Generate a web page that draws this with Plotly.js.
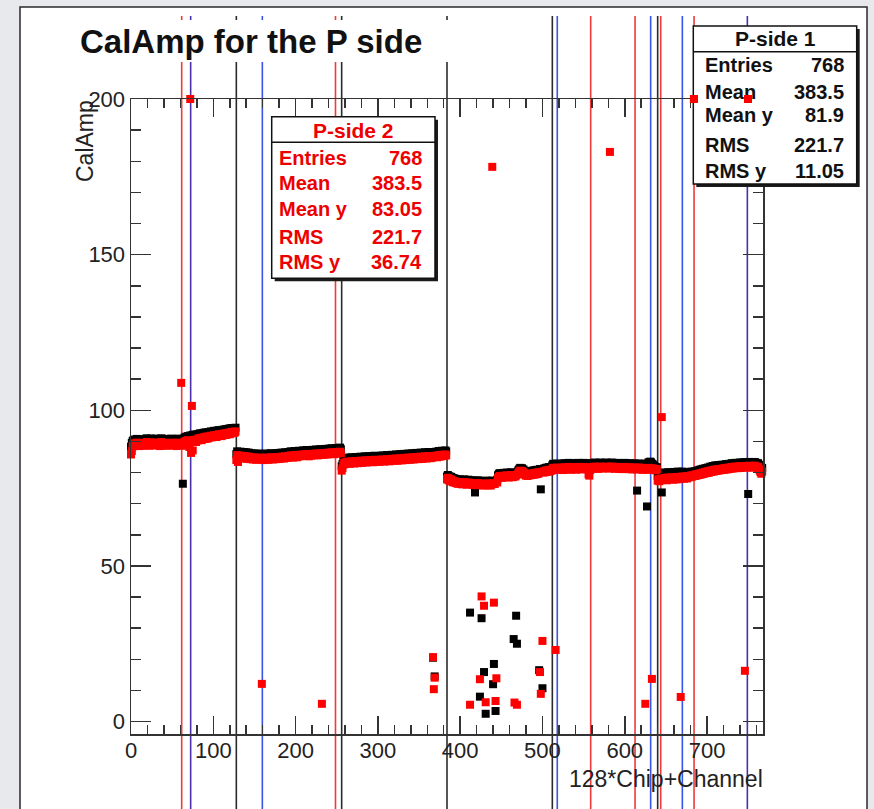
<!DOCTYPE html>
<html>
<head>
<meta charset="utf-8">
<script src="https://cdn.plot.ly/plotly-3.0.1.min.js"></script>
<style>html,body{margin:0;padding:0;background:#e8e9ec;}#chart{width:874px;height:809px;}</style>
</head>
<body>
<div id="chart"></div>
<script>
// ---- Data: CalAmp per channel (128*Chip+Channel) ----
// P-side 1 (black), chips 0..5
const black0 = [88.3,89.5,90.1,90.4,90.0,90.6,90.2,90.8,90.1,90.5,89.9,90.6,90.3,90.0,90.7,90.2,
90.5,90.1,90.7,91.0,90.2,90.4,90.0,90.6,90.9,90.3,90.1,90.8,90.5,90.0,90.9,90.4,
90.2,90.7,90.3,89.9,90.6,91.0,90.4,90.0,90.5,90.8,90.2,90.6,89.9,90.3,90.7,90.1,
90.4,90.9,90.2,90.5,90.0,90.7,90.3,89.9,90.6,90.2,90.9,90.4,90.1,90.5,90.7,76.4,
90.8,91.2,90.9,91.5,91.0,91.7,91.3,91.6,91.9,91.2,91.8,92.1,91.7,92.2,91.9,91.6,
92.2,91.9,92.4,92.1,92.6,92.3,92.0,92.7,92.4,92.8,92.3,92.9,92.6,92.4,93.0,92.7,
92.8,93.2,92.7,93.1,92.9,93.4,93.0,93.3,92.8,93.5,93.2,93.6,93.3,93.5,93.1,93.7,
93.3,93.8,93.5,93.9,93.4,94.0,93.7,94.1,93.6,94.2,93.9,94.3,94.0,94.2,94.1,94.4];
const black1 = [85.9,86.8,85.5,86.4,86.1,86.7,85.9,86.3,86.0,86.6,85.8,86.2,86.5,85.7,86.1,86.4,
85.9,85.6,86.2,85.8,85.5,86.1,85.7,86.0,85.4,85.9,85.6,86.1,85.8,85.5,86.0,85.8,
85.7,85.3,85.9,85.6,86.1,85.5,85.8,85.4,86.0,85.7,86.2,85.6,85.9,85.5,86.1,85.8,
86.0,85.6,86.2,85.9,86.3,85.7,86.1,86.4,85.9,86.2,85.8,86.5,86.1,86.3,86.0,86.6,
86.2,86.5,86.8,86.3,86.7,86.1,86.6,86.9,86.4,86.8,86.2,86.7,87.0,86.5,86.9,86.6,
86.8,87.1,86.6,87.0,86.7,87.2,86.8,87.1,86.5,87.0,87.2,86.7,87.1,87.3,86.9,87.2,
87.0,87.4,87.1,86.8,87.3,87.0,87.5,87.1,86.9,87.3,87.0,87.5,87.2,87.6,87.1,87.4,
87.3,87.7,87.2,87.5,87.8,87.4,87.6,87.2,87.7,87.5,87.9,87.4,87.7,87.6,88.0,87.5];
const black2 = [82.0,82.7,83.8,84.4,84.0,84.6,84.2,84.8,84.3,84.7,84.1,84.5,84.9,84.4,84.7,84.2,
84.6,85.0,84.5,84.8,84.3,84.9,84.6,85.1,84.7,84.4,85.0,84.7,85.2,84.8,84.5,85.1,
84.8,85.2,84.7,85.0,85.3,84.9,84.6,85.1,85.4,85.0,84.7,85.2,84.9,85.3,84.8,85.1,
85.4,85.0,85.5,85.1,84.8,85.3,85.0,85.6,85.2,85.4,84.9,85.5,85.2,85.7,85.3,85.1,
85.6,85.2,85.8,85.4,85.1,85.7,85.3,85.9,85.5,85.2,85.8,85.4,86.0,85.6,85.3,85.9,
85.5,86.1,85.7,85.4,86.0,85.6,86.2,85.8,85.5,86.1,85.7,86.3,85.9,85.6,86.2,85.8,
86.4,86.0,85.7,86.3,85.9,86.5,86.1,85.8,86.4,86.0,86.6,86.2,85.9,86.5,86.1,20.5,
86.3,14.5,86.3,86.7,86.2,86.6,86.9,86.4,86.8,86.5,87.0,86.6,86.9,86.7,87.1,86.8];
const black3 = [78.7,79.2,78.4,78.8,78.1,78.6,78.3,77.8,78.2,77.7,78.0,77.5,77.8,77.3,77.7,77.4,
77.8,77.2,77.6,77.1,77.5,77.8,77.3,77.6,77.0,77.4,77.7,77.2,35.0,77.5,77.1,77.4,
76.9,77.3,73.6,77.4,76.8,77.2,77.5,76.9,8.0,77.1,33.2,77.3,76.7,15.9,77.0,2.5,
77.4,76.8,77.2,76.9,77.3,76.7,77.1,77.4,12.0,18.5,77.2,3.4,77.0,77.7,79.1,79.5,
79.8,79.3,79.7,79.2,79.6,79.9,79.4,79.8,79.5,80.0,79.6,79.3,79.8,79.5,80.1,79.7,
79.4,26.5,79.6,79.6,34.0,25.0,80.3,80.8,81.2,81.5,81.1,81.4,80.8,81.0,80.5,80.2,
79.9,80.3,79.8,80.2,80.5,80.0,80.4,80.1,80.6,80.2,80.7,80.3,80.8,80.4,80.9,80.5,
16.5,81.1,74.6,81.1,10.7,80.9,81.3,81.0,81.5,81.1,81.6,81.2,81.7,81.3,81.8,81.5];
const black4 = [82.3,82.8,82.1,82.6,82.4,82.2,82.9,82.5,82.2,82.7,82.3,82.8,82.5,82.1,82.6,83.0,
82.5,82.9,82.3,82.7,83.1,82.6,82.2,82.8,82.4,82.9,82.5,83.0,82.6,82.2,82.7,83.1,
82.6,83.0,82.5,82.9,82.3,82.8,83.1,82.6,82.9,82.4,82.8,82.5,82.9,82.6,82.3,82.7,
83.0,82.5,82.9,83.2,82.7,83.1,82.6,83.0,82.5,82.9,83.2,82.8,83.1,82.6,83.0,82.7,
83.1,82.8,83.2,82.7,83.0,82.6,82.9,82.9,83.2,82.7,83.1,82.8,82.5,83.0,82.7,83.1,
82.8,82.5,82.9,82.6,83.0,82.7,82.4,82.8,83.1,82.6,82.9,82.5,82.8,82.4,82.7,83.0,
82.6,82.3,82.8,82.5,82.9,82.4,82.7,74.2,82.6,82.9,82.5,82.8,82.3,82.6,82.2,82.7,
82.4,82.8,82.6,69.1,82.9,83.3,83.0,83.5,83.2,82.8,82.6,82.3,82.0,81.8,81.5,81.7];
const black5 = [79.0,79.5,79.1,79.7,79.4,73.6,79.6,80.0,79.5,79.9,79.6,79.2,79.7,80.1,79.5,79.9,
79.6,80.1,79.7,79.4,79.9,80.2,79.8,79.5,80.0,80.3,79.9,79.6,80.1,79.8,80.3,80.0,
79.2,79.7,80.0,79.6,79.3,79.8,80.1,79.7,80.0,80.3,79.9,80.2,79.8,80.4,80.0,80.5,
80.3,80.7,80.4,80.9,80.5,81.0,80.7,81.2,80.8,81.1,81.4,81.0,81.3,81.6,81.1,81.5,
81.9,81.5,81.8,82.1,81.6,82.0,82.3,81.8,82.2,81.9,82.4,82.0,82.3,82.1,82.5,82.2,
82.5,82.1,82.4,82.7,82.2,82.6,82.3,82.8,82.4,82.7,83.0,82.5,82.9,82.6,83.1,82.7,
83.0,82.6,83.1,82.8,83.2,82.7,83.1,82.8,83.3,82.9,83.2,83.0,83.3,82.8,73.1,83.1,
83.4,82.9,83.2,82.8,83.3,83.0,83.4,82.9,83.1,82.7,83.0,82.5,81.9,81.4,80.9,81.5];

// P-side 2 (red), chips 0..5
const red0 = [85.8,86.9,88.4,89.1,88.7,89.4,88.9,89.6,88.8,89.2,88.5,89.3,89.0,88.6,89.5,88.9,
89.2,88.7,89.4,89.8,88.9,89.1,88.6,89.3,89.7,89.0,88.8,89.5,89.2,88.7,89.6,89.1,
88.9,89.4,89.0,88.5,89.3,89.8,89.1,88.7,89.2,89.5,88.9,89.3,88.6,89.0,89.4,88.8,
89.1,89.6,88.9,89.2,88.7,89.4,89.0,88.5,89.3,88.9,89.6,89.1,88.8,108.8,89.2,88.6,
89.4,89.9,89.3,90.1,89.6,90.4,89.8,88.2,200,86.3,101.4,87.1,89.9,90.5,90.2,89.8,
90.6,90.3,90.9,90.5,91.1,90.7,90.4,91.2,90.9,91.3,90.8,91.5,91.1,90.9,91.6,91.2,
91.4,91.8,91.3,91.7,91.5,92.0,91.6,91.9,91.4,92.1,91.8,92.3,91.9,92.2,91.7,92.4,
92.0,92.5,92.2,92.6,92.1,92.7,92.4,92.8,92.3,92.9,92.6,93.1,92.7,93.0,92.8,93.2];
const red1 = [84.0,85.6,83.4,85.1,84.8,85.4,84.6,85.0,84.7,85.3,84.5,84.9,85.2,84.4,84.8,85.1,
84.6,84.3,84.9,84.5,84.2,84.8,84.4,84.7,84.1,84.6,84.3,84.8,84.5,84.2,84.7,12.1,
84.4,84.0,84.6,84.3,84.8,84.2,84.5,84.1,84.7,84.4,84.9,84.3,84.6,84.2,84.8,84.5,
84.7,84.3,84.9,84.6,85.0,84.4,84.8,85.1,84.6,84.9,84.5,85.2,84.8,85.0,84.7,85.3,
84.9,85.2,85.5,85.0,85.4,84.8,85.3,85.6,85.1,85.5,84.9,85.4,85.7,85.2,85.6,85.3,
85.5,85.8,85.3,85.7,85.4,85.9,85.5,85.8,85.2,85.7,85.9,85.4,85.8,86.0,85.6,85.9,
85.7,86.1,85.8,85.5,86.0,85.7,86.2,85.8,5.7,86.0,85.7,86.2,85.9,86.3,85.8,86.1,
86.0,86.4,85.9,86.2,86.5,86.1,86.3,85.9,86.4,86.2,86.6,86.1,86.4,86.3,86.7,86.2];
const red2 = [80.6,81.4,82.5,83.1,82.7,83.3,82.9,83.5,83.0,83.4,82.8,83.2,83.6,83.1,83.4,82.9,
83.3,83.7,83.2,83.5,83.0,83.6,83.3,83.8,83.4,83.1,83.7,83.4,83.9,83.5,83.2,83.8,
83.5,83.9,83.4,83.7,84.0,83.6,83.3,83.8,84.1,83.7,83.4,83.9,83.6,84.0,83.5,83.8,
84.1,83.7,84.2,83.8,83.5,84.0,83.7,84.3,83.9,84.1,83.6,84.2,83.9,84.4,84.0,83.8,
84.3,83.9,84.5,84.1,83.8,84.4,84.0,84.6,84.2,83.9,84.5,84.1,84.7,84.3,84.0,84.6,
84.2,84.8,84.4,84.1,84.7,84.3,84.9,84.5,84.2,84.8,84.4,85.0,84.6,84.3,84.9,84.5,
85.1,84.7,84.4,85.0,84.6,85.2,84.8,84.5,85.1,84.7,85.3,84.9,84.6,85.2,84.8,20.7,
10.4,14.1,85.0,85.4,84.9,85.3,85.6,85.1,85.5,85.2,85.7,85.3,85.6,85.4,85.8,85.5];
const red3 = [77.8,78.3,77.5,77.9,77.2,77.7,77.4,76.9,77.3,76.8,77.1,76.6,76.9,76.4,76.8,76.5,
76.9,76.3,76.7,76.2,76.6,76.9,76.4,76.7,76.1,76.5,76.8,76.3,5.4,76.6,76.2,76.5,
76.0,76.4,76.1,76.5,75.9,76.3,76.6,76.0,13.6,76.2,40.2,76.4,75.8,37.2,76.1,6.2,
76.5,75.9,76.3,76.0,76.4,75.8,76.2,178.2,76.6,38.2,76.3,6.6,13.9,76.8,78.2,78.6,
78.9,78.4,78.8,78.3,78.7,79.0,78.5,78.9,78.6,79.1,78.7,78.4,78.9,78.6,79.2,78.8,
78.5,79.0,6.1,78.7,79.1,5.4,79.4,79.9,80.3,80.6,80.2,80.5,79.9,80.1,79.6,79.3,
79.0,79.4,78.9,79.3,79.6,79.1,79.5,79.2,79.7,79.3,79.8,79.4,79.9,79.5,80.0,79.6,
80.1,15.9,8.9,80.2,25.9,80.0,80.4,80.1,80.6,80.2,80.7,80.3,80.8,80.4,80.9,80.6];
const red4 = [81.0,81.5,80.8,81.3,23.0,81.1,81.6,81.2,80.9,81.4,81.0,81.5,81.2,80.8,81.3,81.7,
81.2,81.6,81.0,81.4,81.8,81.3,80.9,81.5,81.1,81.6,81.2,81.7,81.3,80.9,81.4,81.8,
81.3,81.7,81.2,81.6,81.0,81.5,81.8,81.3,81.6,81.1,81.5,81.2,79.4,79.0,80.8,81.4,
81.7,81.2,81.6,81.9,81.4,81.8,81.3,81.7,81.2,81.6,81.9,81.5,81.8,81.3,81.7,81.4,
81.8,81.5,81.9,81.4,81.7,81.3,183.0,81.6,81.9,81.4,81.8,81.5,81.2,81.7,81.4,81.8,
81.5,81.2,81.6,81.3,81.7,81.4,81.1,81.5,81.8,81.3,81.6,81.2,81.5,81.1,81.4,81.7,
81.3,81.0,81.5,81.2,81.6,81.1,81.4,81.0,81.3,81.6,81.2,81.5,81.0,81.3,80.9,81.4,
81.1,5.7,81.3,80.9,81.2,81.5,81.0,81.4,81.1,13.7,81.3,80.9,81.2,81.0,80.7,81.1];
const red5 = [77.4,77.9,77.2,77.7,78.0,97.8,77.6,78.1,77.8,78.3,77.9,77.5,78.0,78.4,77.8,78.2,
77.9,78.4,78.0,77.7,78.2,78.5,78.1,77.8,78.3,78.6,78.2,77.9,7.9,78.4,78.7,78.3,
78.0,78.5,78.8,78.4,78.1,78.6,78.9,78.5,78.8,79.1,78.7,79.0,200,79.3,78.9,79.4,
79.1,79.5,79.2,79.7,79.3,79.8,79.5,80.0,79.6,79.9,80.2,79.8,80.1,80.4,79.9,80.3,
80.6,80.2,80.5,80.8,80.3,80.7,81.0,80.5,80.9,80.6,81.1,80.7,81.0,80.8,81.2,80.9,
81.3,80.9,81.2,81.5,81.0,81.4,81.1,81.6,81.2,81.5,81.8,81.3,81.7,81.4,81.9,81.5,
81.8,81.4,81.9,81.6,82.0,81.5,81.9,81.6,82.1,81.7,16.3,81.8,82.1,81.6,200,81.9,
82.2,81.7,82.0,81.6,82.1,81.8,82.2,81.7,81.9,81.5,81.8,81.2,80.6,80.1,79.6,80.3];

// Vertical marker lines (channel positions)
const blackLines = [128, 256, 384, 512, 640];
const redLines = [61.6, 248.5, 558.6, 612.5, 643.7, 684.2];
const blueLines = [159.6, 518, 631.5, 670];
const purpleLines = [72.5, 749];

// Stats boxes
const statLabels = ['Entries', 'Mean', 'Mean y', 'RMS', 'RMS y'];
const stats1Values = ['768', '383.5', '81.9', '221.7', '11.05'];
const stats2Values = ['768', '383.5', '83.05', '221.7', '36.74'];

// ---- Build ----
const blackY = [].concat(black0, black1, black2, black3, black4, black5);
const redY = [].concat(red0, red1, red2, red3, red4, red5);
const chanX = blackY.map((_, i) => i);

const L = 131, R = 763, T = 99, B = 734, W = 874, H = 809;
const X = px => (px - L) / (R - L);
const Y = py => (B - py) / (B - T);
const FONT = 'Liberation Sans, Arial, Helvetica, sans-serif';

const shapes = [];
// white canvas
shapes.push({type: 'rect', xref: 'paper', yref: 'paper', layer: 'below',
  x0: X(20), x1: X(867), y0: Y(816), y1: Y(7), fillcolor: '#ffffff',
  line: {color: '#2a2a2a', width: 1.5}});
function vline(x, color) {
  shapes.push({type: 'line', xref: 'x', yref: 'paper', layer: 'below',
    x0: x, x1: x, y0: Y(16), y1: Y(815), line: {color: color, width: 1.6}});
}
blackLines.forEach(x => vline(x, '#2b2b2b'));
redLines.forEach(x => vline(x, '#f03a3a'));
blueLines.forEach(x => vline(x, '#3a55e6'));
purpleLines.forEach(x => vline(x, '#4a30a8'));
// title backing box
shapes.push({type: 'rect', xref: 'paper', yref: 'paper', layer: 'below',
  x0: X(24), x1: X(470), y0: Y(62), y1: Y(20), fillcolor: '#ffffff', line: {width: 0}});

function statBox(x0, x1, y0, y1, ySep) {
  shapes.push({type: 'rect', xref: 'paper', yref: 'paper', layer: 'above',
    x0: X(x0 + 3), x1: X(x1 + 3), y0: Y(y1 + 3), y1: Y(y0 + 3), fillcolor: '#1a1a1a', line: {width: 0}});
  shapes.push({type: 'rect', xref: 'paper', yref: 'paper', layer: 'above',
    x0: X(x0), x1: X(x1), y0: Y(y1), y1: Y(y0), fillcolor: '#ffffff', line: {color: '#111', width: 1.5}});
  shapes.push({type: 'line', xref: 'paper', yref: 'paper', layer: 'above',
    x0: X(x0), x1: X(x1), y0: Y(ySep), y1: Y(ySep), line: {color: '#111', width: 1.5}});
}
statBox(693.3, 856.7, 26, 184, 51.7);
statBox(271.7, 435, 116.7, 278.3, 142.3);

const annotations = [];
function txt(text, px, py, size, color, xanchor, bold, angle) {
  annotations.push({xref: 'paper', yref: 'paper', x: X(px), y: Y(py), text: bold ? '<b>' + text + '</b>' : text,
    showarrow: false, xanchor: xanchor, yanchor: 'middle', textangle: angle || 0,
    font: {family: FONT, size: size, color: color}});
}
txt('CalAmp for the P side', 78, 41, 33, '#111', 'left', true);
txt('CalAmp', 85, 141, 23, '#222', 'center', false, -90);
txt('128*Chip+Channel', 765, 779, 23, '#222', 'right', false);

txt('P-side 1', 775, 38.5, 21, '#111', 'center', true);
const rows1 = [65, 91.5, 115, 145, 170.5];
statLabels.forEach((l, i) => {
  txt(l, 702.7, rows1[i], 20, '#111', 'left', true);
  txt(stats1Values[i], 846, rows1[i], 20, '#111', 'right', true);
});
txt('P-side 2', 353.3, 130.5, 21, '#ee0000', 'center', true);
const rows2 = [158.3, 183.3, 209.3, 236.7, 261.7];
statLabels.forEach((l, i) => {
  txt(l, 277.3, rows2[i], 20, '#ee0000', 'left', true);
  txt(stats2Values[i], 424, rows2[i], 20, '#ee0000', 'right', true);
});
// red points at the top edge which lie on the P-side 1 box are drawn over it
redY.forEach((v, i) => {
  if (v >= 199 && i >= 680) {
    annotations.push({xref: 'x', yref: 'y', x: i, y: v, text: ' ', showarrow: false,
      width: 8, height: 8, borderpad: 0, borderwidth: 0, bgcolor: '#ff0000',
      xanchor: 'center', yanchor: 'middle', font: {size: 4}});
  }
});

const axisCommon = {
  showline: true, linecolor: '#333', linewidth: 1.5, mirror: 'ticks',
  ticks: 'inside', tickcolor: '#333', tickwidth: 1.5,
  showgrid: false, zeroline: false, fixedrange: true,
  tickfont: {family: FONT, size: 22, color: '#222'}
};

const data = [
  {type: 'scatter', mode: 'markers', x: chanX, y: blackY, cliponaxis: false,
   marker: {symbol: 'square', size: 8, color: '#000000', line: {width: 0}}, hoverinfo: 'skip'},
  {type: 'scatter', mode: 'markers', x: chanX, y: redY, cliponaxis: false,
   marker: {symbol: 'square', size: 8, color: '#ff0000', line: {width: 0}}, hoverinfo: 'skip'}
];

const layout = {
  width: W, height: H,
  margin: {l: L, r: W - R, t: T, b: H - B, pad: 0},
  paper_bgcolor: '#e8e9ec', plot_bgcolor: 'rgba(0,0,0,0)',
  showlegend: false,
  xaxis: Object.assign({}, axisCommon, {range: [0, 768], tick0: 0, dtick: 100, ticklen: 18,
    ticklabelstandoff: -4,
    minor: {dtick: 20, tick0: 0, ticks: 'inside', ticklen: 9, tickwidth: 1.5, tickcolor: '#333'}}),
  yaxis: Object.assign({}, axisCommon, {range: [-4, 200], tick0: 0, dtick: 50, ticklen: 20,
    minor: {dtick: 10, tick0: 0, ticks: 'inside', ticklen: 10, tickwidth: 1.5, tickcolor: '#333'}}),
  shapes: shapes,
  annotations: annotations
};

Plotly.newPlot('chart', data, layout, {staticPlot: true, displayModeBar: false});
</script>
</body>
</html>
